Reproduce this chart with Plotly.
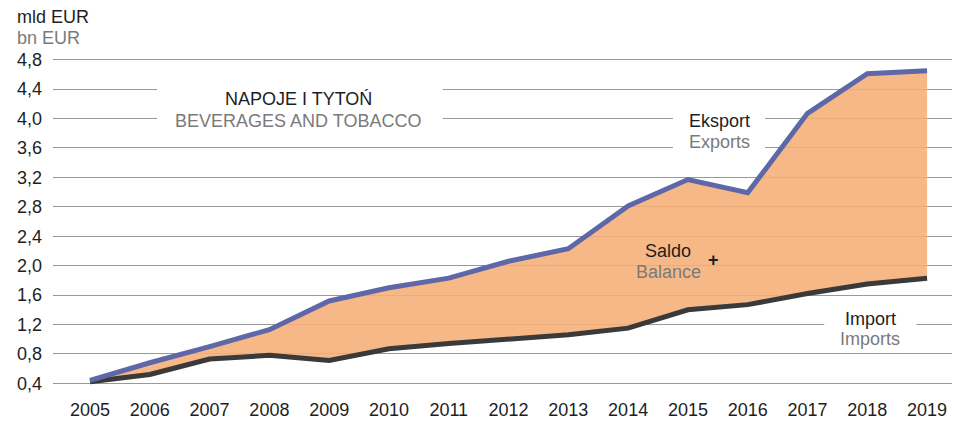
import plotly.graph_objects as go

# Beverages and tobacco trade, bn EUR
years = [2005, 2006, 2007, 2008, 2009, 2010, 2011, 2012, 2013, 2014, 2015, 2016, 2017, 2018, 2019]
exports = [0.44, 0.68, 0.90, 1.13, 1.52, 1.70, 1.83, 2.06, 2.23, 2.81, 3.17, 2.99, 4.07, 4.61, 4.65]
imports = [0.42, 0.52, 0.73, 0.78, 0.71, 0.87, 0.94, 1.00, 1.06, 1.15, 1.40, 1.47, 1.62, 1.75, 1.83]
y_ticks = [0.4, 0.8, 1.2, 1.6, 2.0, 2.4, 2.8, 3.2, 3.6, 4.0, 4.4, 4.8]

FONT = "Liberation Sans, Arial, sans-serif"
DARK = "#1e1e1e"
GREY = "#7a7a7a"
BLUE = "#5e67a8"
BLACKLINE = "#3a3a3a"
FILL = "rgba(246,174,119,0.88)"

fig = go.Figure()

fig.add_trace(go.Scatter(
    x=years, y=imports, mode="lines",
    line=dict(color=BLACKLINE, width=5),
    hoverinfo="skip", showlegend=False,
))
fig.add_trace(go.Scatter(
    x=years, y=exports, mode="lines", fill="tonexty", fillcolor=FILL,
    line=dict(color=BLUE, width=5),
    hoverinfo="skip", showlegend=False,
))

# white boxes that break the gridlines behind the labels
masks = [
    (2006.12, 2010.90, 3.88, 4.48),
    (2014.75, 2016.29, 3.51, 4.12),
    (2017.28, 2018.82, 0.86, 1.43),
]
for x0, x1, y0, y1 in masks:
    fig.add_shape(type="rect", xref="x", yref="y", x0=x0, x1=x1, y0=y0, y1=y1,
                  fillcolor="white", line=dict(width=0), layer="above")


def label(x, y, text, color, size=18, xref="x", yref="y", xanchor="center"):
    fig.add_annotation(x=x, y=y, xref=xref, yref=yref, text=text, showarrow=False,
                       xanchor=xanchor, yanchor="middle",
                       font=dict(family=FONT, size=size, color=color))


label(2008.48, 4.26, "NAPOJE I TYTOŃ", DARK)
label(2008.48, 3.97, "BEVERAGES AND TOBACCO", GREY)
label(2015.52, 3.96, "Eksport", DARK)
label(2015.52, 3.68, "Exports", GREY)
label(2014.67, 2.20, "Saldo", DARK)
label(2014.67, 1.92, "Balance", GREY)
label(2015.42, 2.07, "<b>+</b>", DARK)
label(2018.05, 1.28, "Import", DARK)
label(2018.05, 1.00, "Imports", GREY)
label(-38 / 899, 1.118, "mld EUR", DARK, xref="paper", yref="paper", xanchor="left")
label(-38 / 899, 1.055, "bn EUR", GREY, xref="paper", yref="paper", xanchor="left")

fig.update_layout(
    width=954, height=422,
    margin=dict(l=53, r=2, t=56.3, b=33.3),
    paper_bgcolor="white", plot_bgcolor="white",
    separators=",.",
    font=dict(family=FONT, size=18, color=DARK),
    showlegend=False,
)
fig.update_xaxes(
    range=[2004.381, 2019.417],
    tickvals=years, ticktext=[str(y) for y in years],
    showgrid=False, zeroline=False, showline=False,
    ticks="", ticklabelstandoff=10,
    tickfont=dict(family=FONT, size=18, color=DARK),
)
fig.update_yaxes(
    range=[0.35, 4.85],
    tickvals=y_ticks, tickformat=".1f",
    showgrid=True, gridcolor="#999999", gridwidth=1,
    zeroline=False, showline=False,
    ticks="", ticklabelstandoff=10,
    tickfont=dict(family=FONT, size=18, color=DARK),
)

fig.write_html("out.html")
